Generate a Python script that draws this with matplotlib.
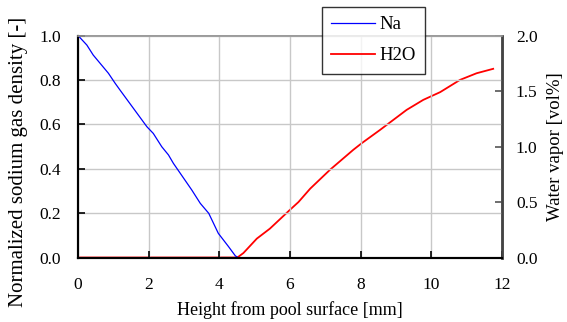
import numpy as np
import matplotlib
matplotlib.use("Agg")
from matplotlib import pyplot as plt

plt.rcParams['font.family'] = ['Liberation Serif', 'DejaVu Serif']

# Na density
na_x = [0.0, 0.25, 0.43, 0.86, 1.05, 1.19, 1.95, 2.13, 2.37, 2.56, 2.70,
        3.22, 3.46, 3.70, 3.97, 4.26, 4.45, 4.52]
na_y = [1.0, 0.957, 0.912, 0.83, 0.785, 0.754, 0.589, 0.559, 0.499, 0.462, 0.424,
        0.304, 0.244, 0.199, 0.109, 0.049, 0.008, 0.0]

# water vapour [vol%]
h2o_x = [0.0, 4.50, 4.54, 4.68, 5.06, 5.43, 6.0, 6.24, 6.57, 7.13, 7.79, 8.03,
         8.55, 9.30, 9.77, 10.25, 10.81, 11.28, 11.75]
h2o_y = [0.0, 0.0, 0.007, 0.04, 0.17, 0.26, 0.43, 0.50, 0.62, 0.79, 0.97, 1.03,
         1.15, 1.33, 1.42, 1.49, 1.60, 1.66, 1.70]

fig = plt.figure(figsize=(5.67, 3.22), dpi=100)
ax = fig.add_axes([0.1376, 0.2003, 0.7478, 0.6894])
ax2 = ax.twinx()

ax.set_zorder(ax2.get_zorder() + 1)
ax.patch.set_visible(False)

l1, = ax.plot(na_x, na_y, color="blue", lw=0.9, label="Na")
l2, = ax2.plot(h2o_x, h2o_y, color="red", lw=1.3, label="H2O")

ax.set_xlim(0, 12)
ax.set_ylim(0, 1.0)
ax2.set_ylim(0, 2.0)
ax.set_xticks(np.arange(0, 13, 2))
ax.set_yticks(np.arange(0, 1.01, 0.2))
ax2.set_yticks(np.arange(0, 2.01, 0.5))
ax.set_yticklabels(["%.1f" % v for v in np.arange(0, 1.01, 0.2)])
ax2.set_yticklabels(["%.1f" % v for v in np.arange(0, 2.01, 0.5)])

ax.grid(True, color="#c8c8c8", lw=1.0)
ax.set_axisbelow(True)

ax.tick_params(direction="in", length=5, width=1.2, labelsize=12.5)
ax.tick_params(axis="x", pad=14)
ax.tick_params(axis="y", pad=12)
ax2.tick_params(direction="in", length=5, width=1.2, labelsize=12.5, pad=10,
                color="#555555")

for a in (ax, ax2):
    a.spines["top"].set_color("#999999")
    a.spines["top"].set_linewidth(1.2)
    a.spines["left"].set_linewidth(1.5)
    a.spines["bottom"].set_linewidth(1.5)
    a.spines["right"].set_color("#444444")
    a.spines["right"].set_linewidth(1.8)

ax.set_xlabel("Height from pool surface [mm]", fontsize=13, labelpad=6)
ax.set_ylabel("Normalized sodium gas density [-]", fontsize=15)
ax.yaxis.set_label_coords(-0.118, 0.43)
ax2.set_ylabel("Water vapor [vol%]", fontsize=13.5, labelpad=7)

leg = fig.legend([l1, l2], ["Na", "H2O"], loc="upper left",
                 bbox_to_anchor=(322 / 567, 1 - 6.7 / 322),
                 fontsize=13.5, frameon=True, fancybox=False, handlelength=2.3,
                 borderpad=0.5, labelspacing=0.75, handletextpad=0.25,
                 borderaxespad=0)
leg.get_frame().set_edgecolor("black")
leg.get_frame().set_linewidth(1.0)

fig.savefig("out.png", dpi=100)
